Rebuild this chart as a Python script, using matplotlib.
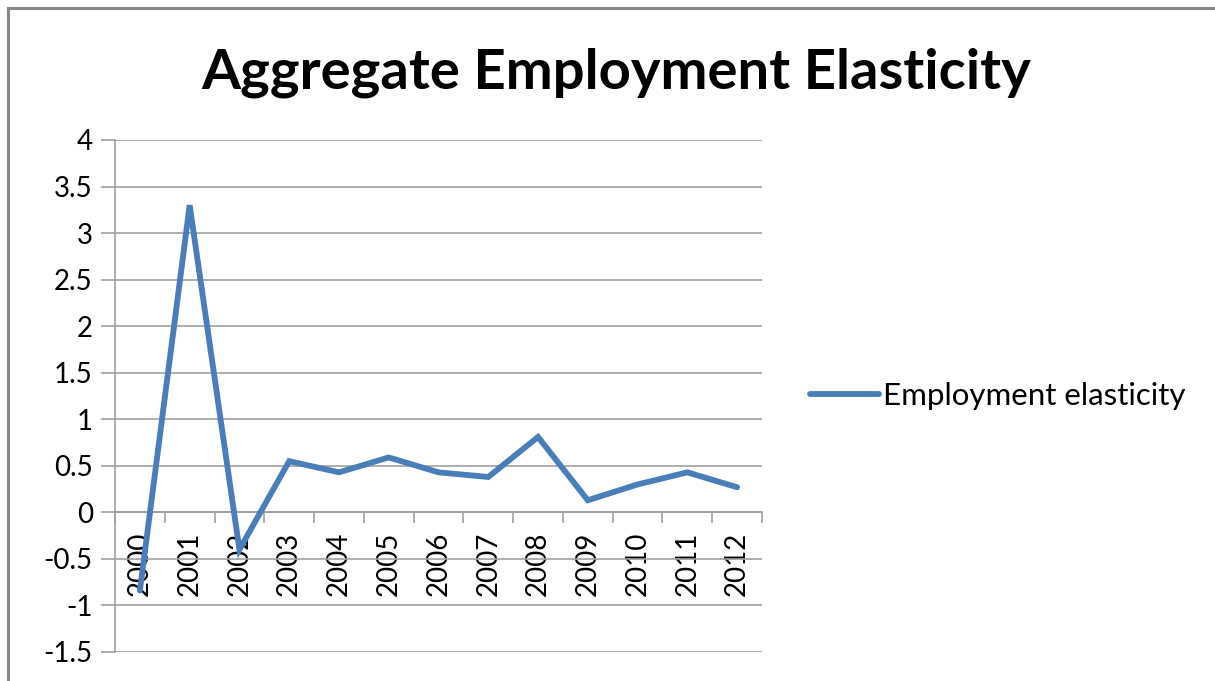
import numpy as np
import matplotlib.pyplot as plt
from matplotlib.lines import Line2D

years = ["2000", "2001", "2002", "2003", "2004", "2005", "2006",
         "2007", "2008", "2009", "2010", "2011", "2012"]
elasticity = [-0.84, 3.30, -0.40, 0.55, 0.43, 0.59, 0.43,
              0.38, 0.81, 0.13, 0.30, 0.43, 0.27]
yticks = [-1.5, -1, -0.5, 0, 0.5, 1, 1.5, 2, 2.5, 3, 3.5, 4]

plt.rcParams['font.family'] = ['Lato', 'DejaVu Sans']
blue = "#4A7EBB"
grey = "#A0A0A0"

fig = plt.figure(figsize=(12.15, 6.81), dpi=100)
ax = fig.add_axes([115/1215, 1 - 652/681, 647/1215, 512/681])

x = np.arange(len(years))
ax.plot(x, elasticity, color=blue, lw=4.2, solid_joinstyle='miter',
        solid_capstyle='round', zorder=3)

ax.set_xlim(-0.5, len(years) - 0.5)
ax.set_ylim(-1.5, 4)
ax.set_yticks(yticks)
ax.set_yticklabels([f"{v:g}" for v in yticks])
ax.yaxis.grid(True, color=grey, lw=1.2)
ax.set_axisbelow(True)

# category axis sits on the zero line, ticks between categories
ax.spines['bottom'].set_position(('data', 0))
ax.spines['bottom'].set_color(grey)
ax.spines['bottom'].set_linewidth(1.2)
ax.spines['left'].set_color(grey)
ax.spines['left'].set_linewidth(1.2)
ax.spines['top'].set_visible(False)
ax.spines['right'].set_visible(False)

ax.set_xticks(np.arange(len(years) + 1) - 0.5)
ax.set_xticklabels([])
ax.set_xticks(x, minor=True)
ax.set_xticklabels(years, minor=True, rotation=90, fontsize=20)
ax.tick_params(axis='x', which='major', length=8, color=grey, width=1.2, direction='out')
ax.tick_params(axis='x', which='minor', length=0, pad=14)
ax.tick_params(axis='y', length=10, color=grey, width=1.2, labelsize=20, pad=6)

fig.text(0.507, 0.893, "Aggregate Employment Elasticity", ha='center', va='center',
         fontsize=40.5, fontweight='bold')

handle = Line2D([], [], color=blue, lw=4.2, solid_capstyle='round')
fig.legend([handle], ["Employment elasticity"], loc='center left',
           bbox_to_anchor=(810/1215, 1 - 396/681), frameon=False,
           fontsize=22.5, handlelength=2.2, handletextpad=0.15,
           borderpad=0, borderaxespad=0)

# chart frame
fig.add_artist(Line2D([8/1215, 8/1215], [0, 1 - 8/681], transform=fig.transFigure,
                      color="#888888", lw=2.2))
fig.add_artist(Line2D([8/1215, 1], [1 - 8/681, 1 - 8/681], transform=fig.transFigure,
                      color="#888888", lw=2.2))

fig.savefig("out.png", dpi=100)
